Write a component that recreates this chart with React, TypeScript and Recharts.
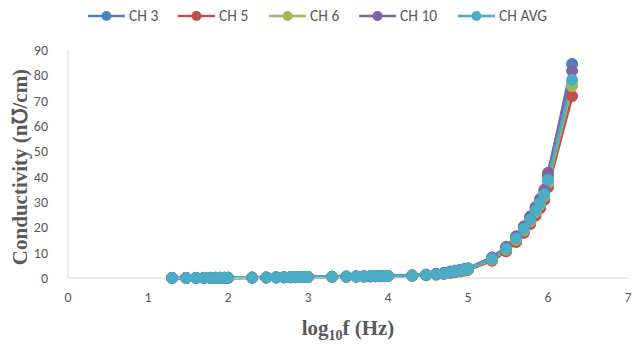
import React from 'react';
import { LineChart, Line, XAxis, YAxis } from 'recharts';

// Measurement frequencies (Hz)
const freqHz = [
  20, 30, 40, 50, 60, 70, 80, 90, 100,
  200, 300, 400, 500, 600, 700, 800, 900, 1000,
  2000, 3000, 4000, 5000, 6000, 7000, 8000, 9000, 10000,
  20000, 30000, 40000, 50000, 60000, 70000, 80000, 90000, 100000,
  200000, 300000, 400000, 500000, 600000, 700000, 800000, 900000, 1000000,
  2000000,
];

const ch3 = [
  0.02, 0.03, 0.04, 0.05, 0.06, 0.07, 0.08, 0.09, 0.1,
  0.15, 0.2, 0.24, 0.28, 0.31, 0.34, 0.37, 0.4, 0.42,
  0.5, 0.56, 0.61, 0.65, 0.69, 0.73, 0.76, 0.79, 0.82,
  1.0, 1.3, 1.6, 2.0, 2.4, 2.8, 3.1, 3.4, 3.7,
  7.9, 12.0, 16.2, 20.1, 23.9, 27.6, 30.8, 34.3, 40.2,
  84.5,
];
const ch5 = [
  0.02, 0.03, 0.04, 0.05, 0.06, 0.07, 0.08, 0.09, 0.1,
  0.14, 0.18, 0.22, 0.26, 0.29, 0.32, 0.35, 0.37, 0.39,
  0.45, 0.5, 0.54, 0.57, 0.6, 0.63, 0.66, 0.69, 0.71,
  0.85, 1.05, 1.3, 1.6, 1.95, 2.3, 2.6, 2.9, 3.2,
  6.8, 10.5, 14.2, 17.8, 21.3, 24.6, 27.6, 30.8, 35.8,
  71.8,
];
const ch6 = [
  0.02, 0.03, 0.04, 0.05, 0.06, 0.07, 0.08, 0.09, 0.1,
  0.15, 0.19, 0.23, 0.27, 0.3, 0.33, 0.36, 0.39, 0.41,
  0.48, 0.53, 0.58, 0.62, 0.66, 0.7, 0.73, 0.76, 0.78,
  0.92, 1.15, 1.45, 1.8, 2.2, 2.6, 2.9, 3.2, 3.5,
  7.3, 11.2, 15.1, 18.8, 22.4, 25.9, 29.0, 32.3, 37.5,
  75.8,
];
const ch10 = [
  0.02, 0.03, 0.04, 0.05, 0.06, 0.07, 0.08, 0.09, 0.1,
  0.16, 0.21, 0.25, 0.29, 0.32, 0.35, 0.38, 0.41, 0.44,
  0.52, 0.58, 0.63, 0.67, 0.71, 0.75, 0.78, 0.81, 0.84,
  1.02, 1.32, 1.65, 2.05, 2.5, 2.9, 3.2, 3.5, 3.8,
  8.1, 12.3, 16.5, 20.4, 24.3, 28.0, 31.3, 34.9, 41.5,
  81.8,
];
const chAvg = [
  0.02, 0.03, 0.04, 0.05, 0.06, 0.07, 0.08, 0.09, 0.1,
  0.15, 0.2, 0.24, 0.28, 0.31, 0.34, 0.37, 0.4, 0.42,
  0.49, 0.54, 0.59, 0.63, 0.67, 0.71, 0.74, 0.77, 0.79,
  0.95, 1.2, 1.5, 1.85, 2.25, 2.65, 2.95, 3.25, 3.55,
  7.6, 11.6, 15.6, 19.4, 23.0, 26.6, 29.7, 33.1, 38.7,
  78.2,
];

const xTicks = [0, 1, 2, 3, 4, 5, 6, 7];
const yTicks = [0, 10, 20, 30, 40, 50, 60, 70, 80, 90];

const seriesList = [
  { key: 'ch3', name: 'CH 3', color: '#4F81BD', values: ch3 },
  { key: 'ch5', name: 'CH 5', color: '#C0504D', values: ch5 },
  { key: 'ch6', name: 'CH 6', color: '#9BBB59', values: ch6 },
  { key: 'ch10', name: 'CH 10', color: '#8064A2', values: ch10 },
  { key: 'avg', name: 'CH AVG', color: '#4BACC6', values: chAvg },
];

const data = freqHz.map((f, i) => {
  const row: Record<string, number> = { x: Math.log10(f) };
  seriesList.forEach((s) => {
    row[s.key] = s.values[i];
  });
  return row;
});

const sansFont = 'Carlito, "Open Sans", "Liberation Sans", Arial, sans-serif';
const tickStyle = { fill: '#595959', fontSize: 14, fontFamily: sansFont };

const legendStarts = [88, 178, 269, 359, 458];

const LegendContent = () => (
  <svg width={635} height={30} style={{ position: 'absolute', left: 0, top: 0 }}>
    {seriesList.map((s, i) => (
      <g key={s.key} transform={`translate(${legendStarts[i]},0)`}>
        <line x1={0} y1={16} x2={37} y2={16} stroke={s.color} strokeWidth={2.5} />
        <circle cx={18.5} cy={16} r={5} fill={s.color} />
        <text x={41} y={21} fill="#595959" fontSize={15.5} fontFamily={sansFont}>
          {s.name}
        </text>
      </g>
    ))}
  </svg>
);

const XLabel = (props: any) => {
  const vb = props.viewBox || { x: 68, y: 278, width: 560 };
  const cx = vb.x + vb.width / 2;
  return (
    <text
      x={cx}
      y={335}
      textAnchor="middle"
      fill="#595959"
      fontSize={21}
      fontWeight="bold"
      fontFamily="Liberation Serif, 'Times New Roman', serif"
    >
      log
      <tspan fontSize={14} dy={5}>10</tspan>
      <tspan dy={-5}>f (Hz)</tspan>
    </text>
  );
};

const YLabel = () => (
  <text
    x={0}
    y={0}
    transform="translate(27,167) rotate(-90)"
    textAnchor="middle"
    fill="#595959"
    fontSize={21}
    fontWeight="bold"
    fontFamily="Liberation Serif, 'Times New Roman', serif"
  >
    Conductivity (n℧/cm)
  </text>
);

export default function App() {
  return (
    <div style={{ position: 'absolute', left: 0, top: 0, width: 635, height: 347, background: '#fff' }}>
      <LineChart width={635} height={347} data={data} margin={{ top: 50, right: 7, bottom: 0, left: 0 }}>
        <XAxis
          dataKey="x"
          type="number"
          domain={[0, 7]}
          ticks={xTicks}
          tick={tickStyle}
          tickLine={false}
          axisLine={{ stroke: '#D9D9D9', strokeWidth: 1 }}
          height={69}
          tickMargin={8}
          label={<XLabel />}
        />
        <YAxis
          type="number"
          domain={[0, 90]}
          ticks={yTicks}
          tick={tickStyle}
          tickLine={false}
          axisLine={{ stroke: '#D9D9D9', strokeWidth: 1 }}
          width={68}
          tickMargin={14}
          label={<YLabel />}
        />
        {seriesList.map((s) => (
          <Line
            key={s.key}
            dataKey={s.key}
            name={s.name}
            stroke={s.color}
            strokeWidth={3}
            dot={{ r: 5.5, fill: s.color, stroke: s.color, strokeWidth: 1 }}
            activeDot={false}
            isAnimationActive={false}
          />
        ))}
      </LineChart>
      <LegendContent />
    </div>
  );
}
